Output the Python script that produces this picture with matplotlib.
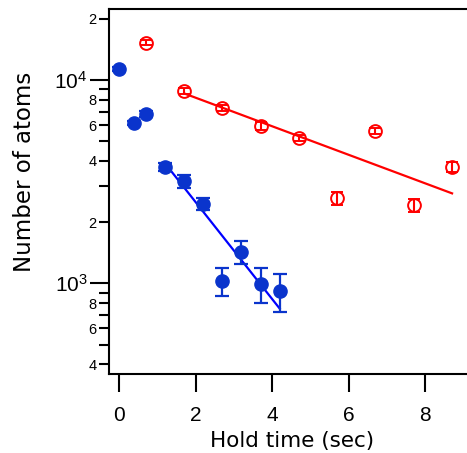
import numpy as np
import matplotlib.pyplot as plt
from matplotlib.ticker import LogLocator, FuncFormatter

# blue: filled circles
blue_t = [0.0, 0.4, 0.7, 1.2, 1.7, 2.2, 2.7, 3.2, 3.7, 4.2]
blue_n = [11300, 6150, 6810, 3750, 3185, 2455, 1030, 1430, 992, 917]
blue_lo = [11040, 6010, 6575, 3580, 2960, 2285, 869, 1245, 803, 725]
blue_hi = [11560, 6290, 7045, 3920, 3410, 2625, 1185, 1620, 1185, 1111]

# red: open circles
red_t = [0.7, 1.7, 2.7, 3.7, 4.7, 5.7, 6.7, 7.7, 8.7]
red_n = [15260, 8860, 7310, 5940, 5170, 2620, 5640, 2430, 3750]
red_err = [440, 306, 253, 273, 179, 203, 195, 180, 217]

# exponential fits (start, end, amplitude at start, lifetime)
blue_fit_t = [1.2, 4.2]
blue_fit_n0 = 3900
blue_tau = 1.82
red_fit_t = [1.7, 8.7]
red_fit_n0 = 8600
red_tau = 6.18

BLUE = '#0a34cc'
RED = '#ff0000'

fig = plt.figure(figsize=(4.67, 4.53), dpi=100)
ax = fig.add_axes([0.2334, 0.1744, 0.7666, 0.8051])

bn = np.array(blue_n)
ax.errorbar(blue_t, blue_n,
            yerr=[bn - np.array(blue_lo), np.array(blue_hi) - bn],
            fmt='o', color=BLUE, ms=9.5, capsize=5, elinewidth=1.6,
            capthick=1.6, zorder=3)
ax.errorbar(red_t, red_n, yerr=red_err, fmt='o', mfc='none', mec=RED,
            color=RED, ms=9.2, mew=1.4, capsize=4.5, elinewidth=1.5,
            capthick=1.5, zorder=3)

tb = np.linspace(blue_fit_t[0], blue_fit_t[1], 50)
ax.plot(tb, blue_fit_n0 * np.exp(-(tb - tb[0]) / blue_tau), color='#0000ff', lw=1.6)
tr = np.linspace(red_fit_t[0], red_fit_t[1], 50)
ax.plot(tr, red_fit_n0 * np.exp(-(tr - tr[0]) / red_tau), color=RED, lw=1.6)

ax.set_yscale('log')
ax.set_ylim(358, 22300)
ax.set_xlim(-0.26, 9.09)
ax.set_xticks([0, 2, 4, 6, 8])

ax.yaxis.set_major_locator(LogLocator(base=10, subs=[1.0]))
ax.yaxis.set_minor_locator(LogLocator(base=10, subs=np.arange(2, 10)))
ax.yaxis.set_major_formatter(FuncFormatter(
    lambda v, p: r'$\mathregular{10^{%d}}$' % round(np.log10(v))))


def minor_label(v, p):
    m = round(v / 10 ** np.floor(np.log10(v) + 1e-9))
    return '%d' % m if m in (2, 4, 6, 8) else ''


ax.yaxis.set_minor_formatter(FuncFormatter(minor_label))

ax.spines['right'].set_visible(False)
for s in ['left', 'bottom', 'top']:
    ax.spines[s].set_linewidth(1.5)

ax.tick_params(axis='x', which='major', direction='out', length=13, width=1.5,
               labelsize=15, pad=10)
ax.tick_params(axis='y', which='major', direction='out', length=13.5, width=1.5,
               labelsize=15, pad=2)
ax.tick_params(axis='y', which='minor', direction='out', length=7, width=1.5,
               labelsize=10.5, pad=2)
for lab in ax.get_xticklabels() + ax.get_yticklabels() + ax.get_yticklabels(minor=True):
    lab.set_family('Liberation Sans')

ax.set_xlabel('Hold time (sec)', fontsize=15.5, labelpad=2)
ax.set_ylabel('Number of atoms', fontsize=16.5)
ax.yaxis.set_label_coords(-0.205, 0.554)
ax.xaxis.set_label_coords(0.51, -0.155)

fig.savefig('out.png', dpi=100)
